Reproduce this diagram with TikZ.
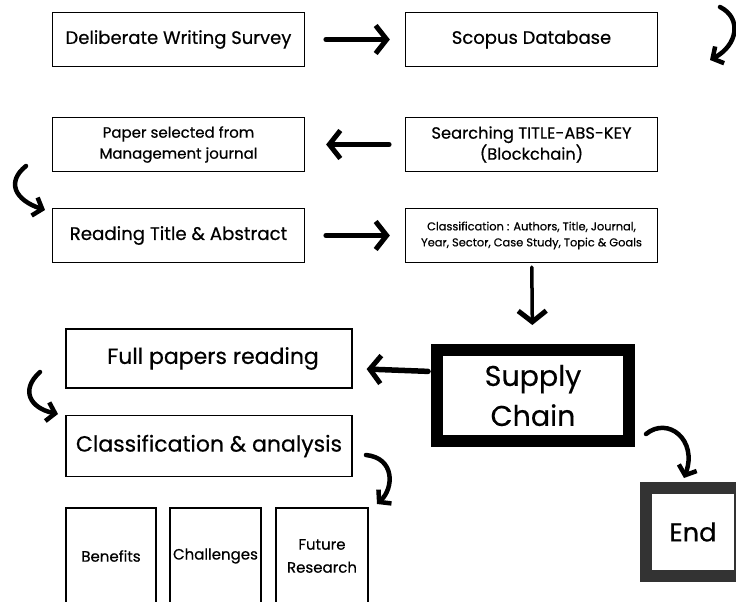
\documentclass[tikz,border=0pt]{standalone}
\usepackage{fontspec}
\setmainfont{Poppins}[FakeBold=0.5]
\usetikzlibrary{arrows.meta,calc}
\definecolor{endgray}{HTML}{333333}

\begin{document}
\begin{tikzpicture}[x=1pt,y=-1pt,
  box/.style={draw,line width=1.3pt,minimum width=252pt,minimum height=54pt,align=center,inner sep=2pt},
  tallbox/.style={draw,line width=1.2pt,minimum height=96pt,align=center,inner sep=0pt,font=\fontsize{15}{23}\selectfont},
  thickbox/.style={draw,line width=12pt,align=center,inner sep=0pt},
  hand/.style={line width=5.5pt,line cap=round,-{Straight Barb[length=11pt,width=28pt,line width=5pt]}},
  curl/.style={line width=4.5pt,line cap=round,-{Straight Barb[length=8pt,width=19pt,line width=4.5pt]}}]
\useasboundingbox (0,0) rectangle (736,602);
\clip (0,0) rectangle (736,602);
% top rows
\node[box,font=\fontsize{18}{21}\selectfont] (survey) at (178.5,39.5) {Deliberate Writing Survey};
\node[box,font=\fontsize{18}{21}\selectfont] (scopus) at (531.5,39.5) {Scopus Database};
\node[box,font=\fontsize{15}{21}\selectfont] (paper) at (178.5,144.5) {Paper selected from\\Management journal};
\node[box,font=\fontsize{16.3}{21}\selectfont] (search) at (531.5,144.5) {Searching TITLE-ABS-KEY\\(Blockchain)};
\node[box,font=\fontsize{18.2}{21}\selectfont] (reading) at (178.5,235.5) {Reading Title \& Abstract};
\node[box,font=\fontsize{11.4}{16}\selectfont] (classif) at (531.5,235.5) {Classification : Authors, Title, Journal,\\Year, Sector, Case Study, Topic \& Goals};
% lower part
\node[box,minimum width=286pt,minimum height=59pt,font=\fontsize{22}{25}\selectfont] (full) at (209,358.5) {\hspace*{8pt}Full papers reading};
\node[box,minimum width=286pt,minimum height=61pt,font=\fontsize{22}{25}\selectfont] (analysis) at (209,446) {Classification \& analysis};
\node[tallbox,minimum width=90pt] (benefits) at (111,556) {Benefits};
\node[tallbox,minimum width=91pt] (challenges) at (215.5,556) {Challenges};
\node[tallbox,minimum width=92pt] (future) at (322,556) {Future\\Research};
\node[thickbox,minimum width=192pt,minimum height=91pt,font=\fontsize{28.5}{40}\selectfont] (supply) at (533,395.5) {Supply\\Chain};
\node[thickbox,draw=endgray,minimum width=94pt,minimum height=88pt,font=\fontsize{25.7}{28}\selectfont] (end) at (693,532) {End};
% straight arrows
\draw[hand,shorten <=21pt,shorten >=15pt] (survey) -- (scopus);
\draw[hand,shorten <=16pt,shorten >=21pt] (search) -- (paper);
\draw[hand,shorten <=21pt,shorten >=15pt] (reading) -- (classif);
\draw[hand,line width=3.5pt,shorten <=4pt,shorten >=19pt] (classif) -- (supply);
\draw[hand,shorten <=3pt,shorten >=14pt] ([yshift=24pt]supply.west) -- ([yshift=-10pt]full.east);
% curled arrows
\coordinate (r1a) at (720,7); \coordinate (r1b) at (710,60);
\coordinate (r2a) at (26,166); \coordinate (r2b) at (45,210);
\coordinate (r3a) at (40,372); \coordinate (r3b) at (58,414);
\coordinate (r4a) at (366,455); \coordinate (r4b) at (377,504);
\coordinate (r5a) at (646,434); \coordinate (r5b) at (684,478);
\draw[curl] (r1a) .. controls (742,18) and (738,45) .. (r1b);
\draw[curl] (r2a) .. controls (6,182) and (15,200) .. (r2b);
\draw[curl] (r3a) .. controls (20,390) and (30,408) .. (r3b);
\draw[curl] (r4a) .. controls (395,458) and (394,488) .. (r4b);
\draw[curl] (r5a) .. controls (668,416) and (698,440) .. (r5b);
\end{tikzpicture}
\end{document}
